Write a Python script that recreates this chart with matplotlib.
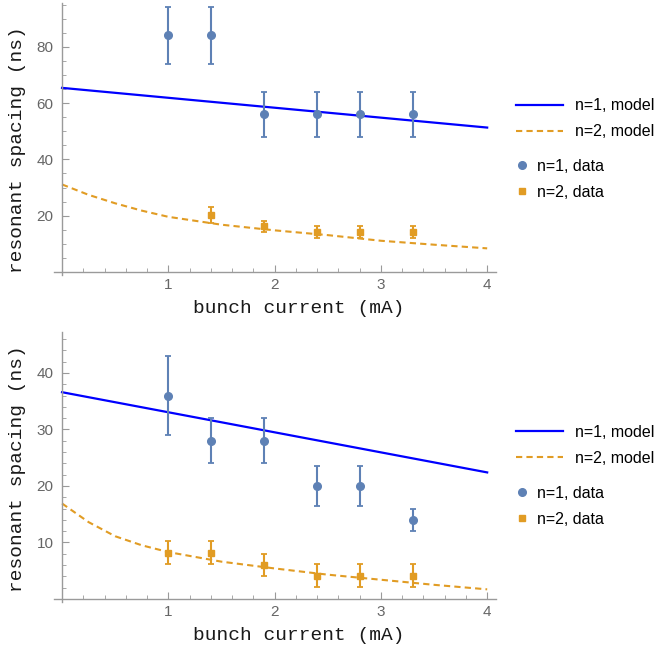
import numpy as np
import matplotlib
matplotlib.use("Agg")
import matplotlib.pyplot as plt
from matplotlib.lines import Line2D
from matplotlib.ticker import MultipleLocator, FixedLocator

# colores tipo Mathematica
azul_dato = "#5E81B5"
naranja = "#E19C24"
azul_modelo = "#0000FF"
gris_eje = "#9A9A9A"
gris_txt = "#666666"

# ---- panel de arriba ----
x_n1 = [1.0, 1.4, 1.9, 2.4, 2.8, 3.3]
arriba_n1 = [84, 84, 56, 56, 56, 56]
arriba_n1_err = [10, 10, 8, 8, 8, 8]

x_n2_arriba = [1.4, 1.9, 2.4, 2.8, 3.3]
arriba_n2 = [20.3, 16.2, 14.2, 14.2, 14.2]
arriba_n2_err = [2.8, 2.0, 2.0, 2.0, 2.0]

# curvas del modelo
x_modelo_lin = [0, 4]
arriba_mod_n1 = [65.4, 51.3]
x_modelo = [0, 0.25, 0.5, 0.75, 1, 1.5, 2, 2.5, 3, 3.5, 4]
arriba_mod_n2 = [31.1, 27.4, 24.4, 21.8, 19.6, 16.8, 14.8, 13.1, 11.1, 9.7, 8.4]

# ---- panel de abajo ----
abajo_n1 = [36, 28, 28, 20, 20, 14]
abajo_n1_err = [7, 4, 4, 3.5, 3.5, 2]

x_n2_abajo = [1.0, 1.4, 1.9, 2.4, 2.8, 3.3]
abajo_n2 = [8.2, 8.2, 6.0, 4.1, 4.1, 4.1]
abajo_n2_err = [2, 2, 2, 2, 2, 2]

abajo_mod_n1 = [36.6, 22.4]
abajo_mod_n2 = [16.9, 13.6, 11.1, 9.5, 8.3, 6.6, 5.4, 4.3, 3.4, 2.5, 1.7]

fig = plt.figure(figsize=(6.56, 6.5), dpi=100)
ax1 = fig.add_axes([0.0816, 0.5772, 0.674, 0.418])
ax2 = fig.add_axes([0.0816, 0.0742, 0.674, 0.4154])

paneles = [
    (ax1, arriba_n1, arriba_n1_err, x_n2_arriba, arriba_n2, arriba_n2_err,
     arriba_mod_n1, arriba_mod_n2, (-1, 95.5), 20, 5, 0.459, 0.574, 0.351),
    (ax2, abajo_n1, abajo_n1_err, x_n2_abajo, abajo_n2, abajo_n2_err,
     abajo_mod_n1, abajo_mod_n2, (-0.5, 47.3), 10, 2, 0.492, 0.580, 0.354),
]

for (ax, y1, e1, x2, y2, e2, m1, m2, ylim, may, men, ylab_y, leg1_y, leg2_y) in paneles:
    ax.plot(x_modelo_lin, m1, color=azul_modelo, lw=1.6, zorder=2)
    ax.plot(x_modelo, m2, color=naranja, lw=1.5, dashes=(3, 2), zorder=2)
    ax.errorbar(x_n1, y1, yerr=e1, fmt="o", color=azul_dato, ms=5.5,
                elinewidth=1.5, capsize=2.5, capthick=1.3, zorder=3)
    ax.errorbar(x2, y2, yerr=e2, fmt="s", color=naranja, ms=3.8,
                elinewidth=1.5, capsize=2.2, capthick=1.3, zorder=3)

    ax.set_xlim(-0.08, 4.08)
    ax.set_ylim(*ylim)
    for s in ["top", "right"]:
        ax.spines[s].set_visible(False)
    ax.spines["left"].set_position(("data", 0))
    ax.spines["bottom"].set_position(("data", 0))
    for s in ["left", "bottom"]:
        ax.spines[s].set_color(gris_eje)
        ax.spines[s].set_linewidth(1.0)

    ax.xaxis.set_major_locator(FixedLocator([1, 2, 3, 4]))
    ax.xaxis.set_minor_locator(FixedLocator([i * 0.2 for i in range(1, 21) if i % 5 != 0]))
    ax.yaxis.set_major_locator(MultipleLocator(may))
    ax.yaxis.set_minor_locator(MultipleLocator(men))
    ax.set_yticks([t for t in np.arange(may, ylim[1], may)])
    ax.tick_params(which="both", direction="in", color=gris_eje, labelcolor=gris_txt,
                   labelsize=11)
    ax.tick_params(which="major", length=5)
    ax.tick_params(which="minor", length=3)
    ax.tick_params(axis="x", pad=4)
    ax.tick_params(axis="y", pad=6)
    for lbl in ax.get_xticklabels() + ax.get_yticklabels():
        lbl.set_family("Liberation Sans")

    ax.set_xlabel("bunch current (mA)", family="Liberation Mono", fontsize=14,
                  color="#1a1a1a")
    ax.set_ylabel("resonant spacing (ns)", family="Liberation Mono", fontsize=14,
                  color="#1a1a1a")
    ax.xaxis.set_label_coords(0.555, -0.092)
    ax.yaxis.set_label_coords(-0.062, ylab_y)

    h_mod = [Line2D([], [], color=azul_modelo, lw=1.6),
             Line2D([], [], color=naranja, lw=1.5, dashes=(3, 2))]
    leg1 = ax.legend(h_mod, ["n=1, model", "n=2, model"], loc="center left",
                     bbox_to_anchor=(1.046, leg1_y), frameon=False, borderpad=0,
                     borderaxespad=0, handlelength=2.95, handletextpad=0.75,
                     labelspacing=0.68, prop={"family": "Liberation Sans", "size": 11.5})
    ax.add_artist(leg1)
    h_dat = [Line2D([], [], color=azul_dato, marker="o", ls="none", ms=5.5),
             Line2D([], [], color=naranja, marker="s", ls="none", ms=3.8)]
    ax.legend(h_dat, ["n=1, data", "n=2, data"], loc="center left",
              bbox_to_anchor=(1.044, leg2_y), frameon=False, borderpad=0,
              borderaxespad=0, handlelength=0.9, handletextpad=0.5,
              labelspacing=0.68, prop={"family": "Liberation Sans", "size": 11.5})

fig.savefig("out.png", dpi=100)
